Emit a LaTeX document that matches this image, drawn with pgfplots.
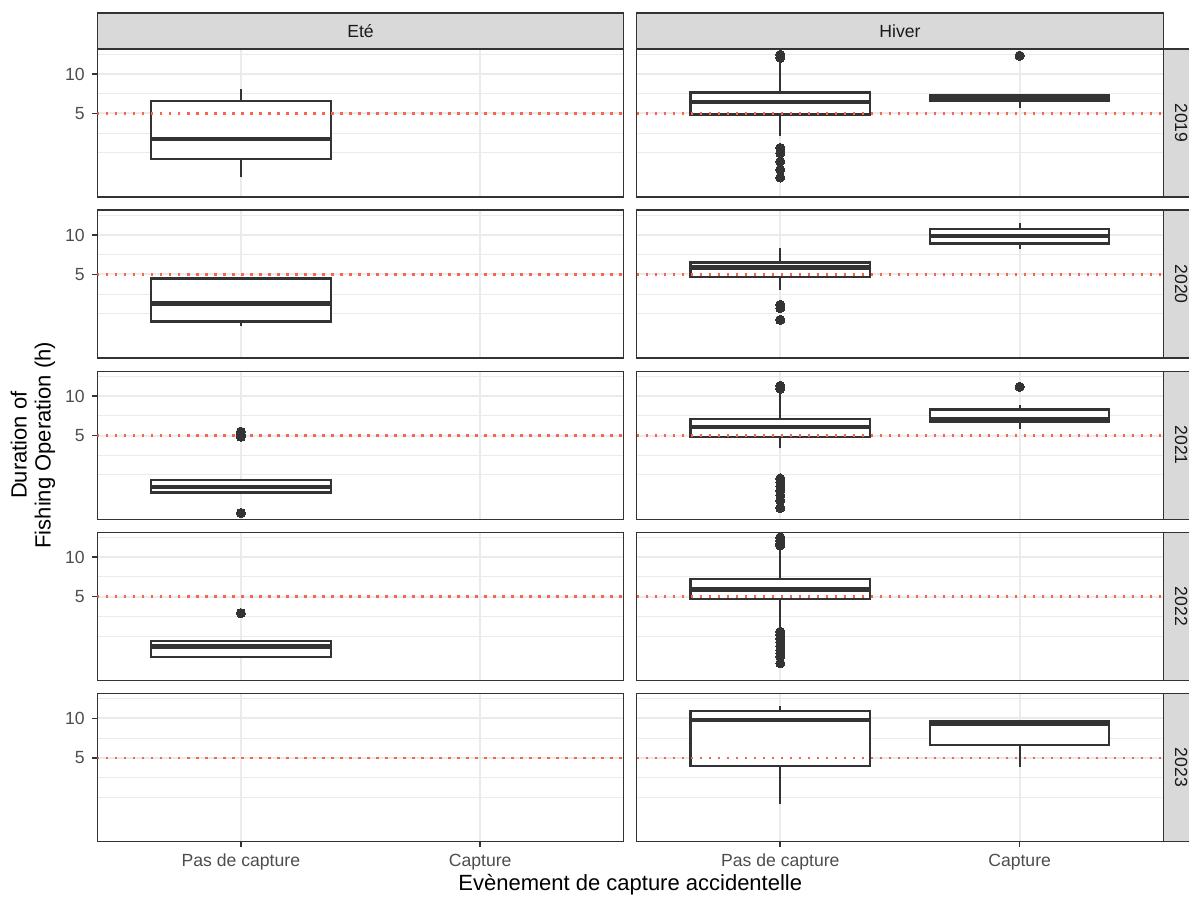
\documentclass[border=0pt]{standalone}
\usepackage{pgfplots}
\pgfplotsset{compat=1.18}
\usepackage{fontspec}
\setmainfont{Liberation Sans}
\definecolor{c33}{HTML}{333333}
\definecolor{gridc}{HTML}{EBEBEB}
\definecolor{stripc}{HTML}{D9D9D9}
\definecolor{tickc}{HTML}{4D4D4D}
\definecolor{stript}{HTML}{1A1A1A}
\definecolor{refc}{RGB}{248,100,80}
\pgfplotsset{
 whisk/.style={draw=c33, line width=1.1pt, forget plot},
 boxst/.style={draw=c33, fill=white, line width=1.1pt, forget plot},
 medst/.style={draw=c33, line width=2.2pt, forget plot},
 outl/.style={only marks, mark=*, mark size=2.3pt, mark options={draw=c33, fill=c33, line width=0pt}, forget plot},
 refline/.style={draw=refc, line width=1.2pt, dash pattern=on 1.1pt off 3.4pt, forget plot},
}
% one box: left, centre, right, lower whisker, Q1, median, Q3, upper whisker
\newcommand\bxp[8]{%
 \addplot[whisk] coordinates {(#2,#4) (#2,#5)};
 \addplot[whisk] coordinates {(#2,#7) (#2,#8)};
 \addplot[boxst] coordinates {(#1,#5) (#3,#5) (#3,#7) (#1,#7)} --cycle;
 \addplot[medst] coordinates {(#1,#6) (#3,#6)};
}
% one facet panel: position, extra options, body
\newcommand\Panel[3]{%
\begin{axis}[at={#1}, anchor=south west, scale only axis, width=263.25pt, height=74pt,
  ymode=log, ymin=1.149, ymax=15.52, xmin=0.4, xmax=2.6,
  xtick={1,2}, ytick={5,10}, minor ytick={2.5,3.5355,7.0711,14.142},
  grid=both, major grid style={draw=gridc, line width=1pt},
  minor grid style={draw=gridc, line width=0.5pt},
  axis line style={draw=c33, line width=0.6pt},
  tick align=outside, major tick length=2.75pt, minor tick length=0pt,
  xtick pos=bottom, ytick pos=left,
  xticklabels={}, yticklabels={},
  xtick style={draw=none}, ytick style={draw=none},
  tick label style={font=\fontsize{8.8pt}{10pt}\selectfont, text=tickc},
  #2]
#3
\addplot[refline] coordinates {(0.4,5) (2.6,5)};
\end{axis}}
\tikzset{strip/.style={fill=stripc, draw=c33, line width=0.6pt},
 striptext/.style={text=stript, font=\fontsize{8.8pt}{10pt}\selectfont, inner sep=0pt}}
\begin{document}
\begin{tikzpicture}
\useasboundingbox (0,0) rectangle (594.5pt,448.5pt);
% ---------- 2019 ----------
\Panel{(48.65pt,350pt)}{ytick style={draw=c33, line width=0.8pt}, yticklabels={5,10}}{
 \bxp{0.625}{1}{1.375}{1.62}{2.25}{3.19}{6.22}{7.68}
}
\Panel{(318.35pt,350pt)}{}{
 \bxp{0.625}{1}{1.375}{3.38}{4.91}{6.14}{7.23}{12.7}
 \addplot[outl] coordinates {(1,13.3) (1,14.0) (1,2.72) (1,2.49) (1,2.15) (1,1.86) (1,1.62)};
 \bxp{1.625}{2}{2.375}{5.5}{6.2}{6.6}{6.9}{6.9}
 \addplot[outl] coordinates {(2,13.8)};
}
% ---------- 2020 ----------
\Panel{(48.65pt,269.45pt)}{ytick style={draw=c33, line width=0.8pt}, yticklabels={5,10}}{
 \bxp{0.625}{1}{1.375}{2.03}{2.19}{3.0}{4.66}{4.78}
}
\Panel{(318.35pt,269.45pt)}{}{
 \bxp{0.625}{1}{1.375}{3.80}{4.80}{5.65}{6.18}{7.96}
 \addplot[outl] coordinates {(1,2.93) (1,2.77) (1,2.25)};
 \bxp{1.625}{2}{2.375}{7.82}{8.63}{9.88}{11.1}{12.35}
}
% ---------- 2021 ----------
\Panel{(48.65pt,188.9pt)}{ytick style={draw=c33, line width=0.8pt}, yticklabels={5,10}}{
 \bxp{0.625}{1}{1.375}{1.80}{1.84}{2.02}{2.29}{2.31}
 \addplot[outl] coordinates {(1,5.35) (1,5.1) (1,4.9) (1,1.28)};
}
\Panel{(318.35pt,188.9pt)}{}{
 \bxp{0.625}{1}{1.375}{3.99}{4.89}{5.80}{6.71}{10.8}
 \addplot[outl] coordinates {(1,12.0) (1,11.4) (1,2.35) (1,2.2) (1,2.05) (1,1.9) (1,1.75) (1,1.6) (1,1.4)};
 \bxp{1.625}{2}{2.375}{5.66}{6.41}{6.64}{7.91}{8.54}
 \addplot[outl] coordinates {(2,11.8)};
}
% ---------- 2022 ----------
\Panel{(48.65pt,108.35pt)}{ytick style={draw=c33, line width=0.8pt}, yticklabels={5,10}}{
 \bxp{0.625}{1}{1.375}{1.71}{1.74}{2.08}{2.29}{2.30}
 \addplot[outl] coordinates {(1,3.74)};
}
\Panel{(318.35pt,108.35pt)}{}{
 \bxp{0.625}{1}{1.375}{2.78}{4.83}{5.69}{6.86}{11.4}
 \addplot[outl] coordinates {(1,14.2) (1,13.4) (1,12.7) (1,12.3) (1,2.70) (1,2.55) (1,2.4) (1,2.25) (1,2.1) (1,1.95) (1,1.85) (1,1.75) (1,1.55)};
}
% ---------- 2023 ----------
\Panel{(48.65pt,27.8pt)}{ytick style={draw=c33, line width=0.8pt}, yticklabels={5,10}, xtick style={draw=c33, line width=0.8pt}, xticklabels={Pas de capture,Capture}}{
}
\Panel{(318.35pt,27.8pt)}{xtick style={draw=c33, line width=0.8pt}, xticklabels={Pas de capture,Capture}}{
 \bxp{0.625}{1}{1.375}{2.20}{4.34}{9.70}{11.43}{12.4}
 \bxp{1.625}{2}{2.375}{4.22}{6.25}{9.15}{9.5}{9.5}
}
% ---------- strips ----------
\draw[strip] (48.65pt,424pt) rectangle (311.9pt,442pt);
\draw[strip] (318.35pt,424pt) rectangle (581.6pt,442pt);
\node[striptext] at (180.28pt,433pt) {Eté};
\node[striptext] at (449.98pt,433pt) {Hiver};
\foreach \yb/\lab in {350/2019, 269.45/2020, 188.9/2021, 108.35/2022, 27.8/2023}{
 \draw[strip] (581.6pt,\yb pt) rectangle (599.6pt,\yb pt+74pt);
 \node[striptext, rotate=-90] at (590.6pt,\yb pt+37pt) {\lab};
}
% ---------- axis titles ----------
\node[rotate=90, align=center, font=\fontsize{11pt}{12pt}\selectfont, inner sep=0pt] at (16.5pt,225.9pt) {Duration of\\Fishing Operation (h)};
\node[anchor=base, font=\fontsize{11pt}{12pt}\selectfont, inner sep=0pt] at (315.15pt,3.2pt) {Evènement de capture accidentelle};
\end{tikzpicture}
\end{document}
